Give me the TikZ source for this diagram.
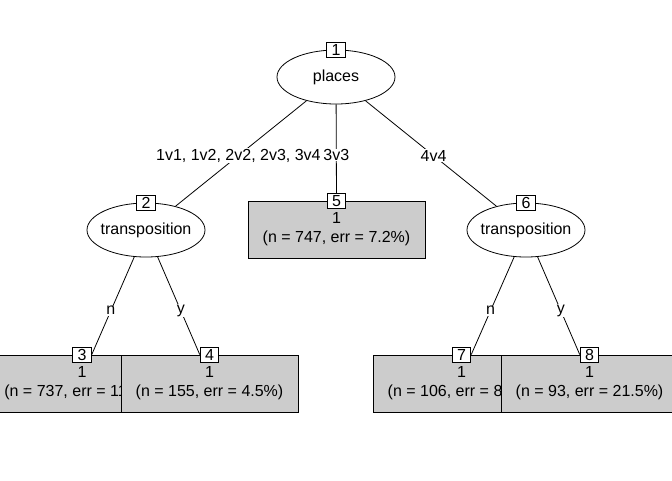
\documentclass[tikz,border=0pt]{standalone}
\usepackage{fontspec}
\setmainfont{Liberation Sans}
\usepackage{tikz}
\usetikzlibrary{shapes.geometric}
\tikzstyle{splitnode} = [ellipse, draw, minimum width=88.5pt, minimum height=40.5pt, inner sep=0pt]
\tikzstyle{leafnode} = [rectangle, draw, fill=black!20, minimum width=132.75pt, minimum height=42.75pt, align=center, inner sep=0pt, text depth=3.5pt]
\tikzstyle{idbox} = [rectangle, draw, fill=white, minimum width=14pt, minimum height=11.25pt, inner sep=0.5pt]
\tikzstyle{edgelab} = [fill=white, inner sep=0.5pt, pos=.52]

\begin{document}
\begin{tikzpicture}[x=0.75pt, y=-0.75pt, line width=0.6pt, every node/.style={font=\fontsize{12}{14.5}\selectfont}]
        \useasboundingbox (0,0) rectangle (672,480);
        \node (n1) [splitnode, label=center:places] at (336,77) {};
        \node (n2) [splitnode, label=center:transposition] at (146,230) {};
        \node (n6) [splitnode, label=center:transposition] at (526,230) {};
        \node (n5) [leafnode] at (336.5,230) {1\\(n = 747, err = 7.2\%)};
        \node (n3) [leafnode] at (82,383.5) {1\\(n = 737, err = 11.9\%)};
        \node (n4) [leafnode] at (209.5,383.5) {1\\(n = 155, err = 4.5\%)};
        \node (n7) [leafnode] at (461.5,383.5) {1\\(n = 106, err = 8.5\%)};
        \node (n8) [leafnode] at (589.5,383.5) {1\\(n = 93, err = 21.5\%)};
        \node (id1) [idbox] at (n1.north) {1};
        \node (id2) [idbox] at (n2.north) {2};
        \node (id5) [idbox] at (n5.north) {5};
        \node (id6) [idbox] at (n6.north) {6};
        \node (id3) [idbox] at (n3.north) {3};
        \node (id4) [idbox] at (n4.north) {4};
        \node (id7) [idbox] at (n7.north) {7};
        \node (id8) [idbox] at (n8.north) {8};
        \draw (n1) -- node[edgelab] {1v1, 1v2, 2v2, 2v3, 3v4} (n2);
        \draw (n1) -- node[edgelab, pos=.57] {3v3} (id5);
        \draw (n1) -- node[edgelab] {4v4} (n6);
        \draw (n2) -- node[edgelab, pos=.55] {n} (id3.east);
        \draw (n2) -- node[edgelab, pos=.55] {y} (id4.west);
        \draw (n6) -- node[edgelab, pos=.55] {n} (id7.east);
        \draw (n6) -- node[edgelab, pos=.55] {y} (id8.west);
    \end{tikzpicture}
\end{document}
